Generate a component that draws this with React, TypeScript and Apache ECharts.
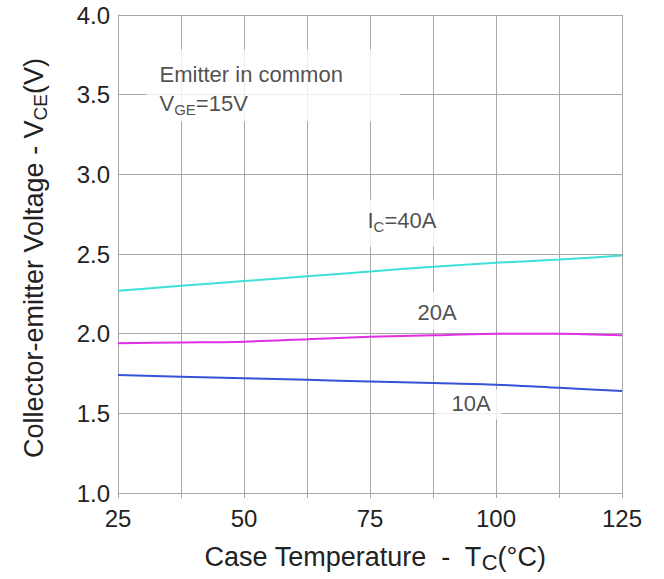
import { useEffect, useRef } from "react";
import * as echarts from "echarts";

// Case temperature (°C) sample points
const temperatures = [25, 37.5, 50, 62.5, 75, 87.5, 100, 112.5, 125];

// Collector-emitter saturation voltage (V) per collector current
const vce40A = [2.27, 2.3, 2.33, 2.36, 2.39, 2.42, 2.445, 2.465, 2.49];
const vce20A = [1.94, 1.945, 1.95, 1.965, 1.98, 1.99, 2.0, 2.0, 1.99];
const vce10A = [1.74, 1.73, 1.72, 1.71, 1.7, 1.69, 1.68, 1.66, 1.64];

const seriesNames = ["IC=40A", "IC=20A", "IC=10A"];
const seriesColors = ["#3fe0da", "#e22ee2", "#3552d8"];

const FONT = '"Liberation Sans", Arial, Helvetica, sans-serif';
const INK = "#222222";
const GRID = "#a8a8a8";

// Text notes anchored (top-left of their white box) in data coordinates
const notes = [
  {
    at: [30.754, 3.7803],
    text: "Emitter in common\nV{sub|GE}=15V",
    lineHeight: 29,
    padding: [10.5, 57, 3.5, 13],
  },
  {
    at: [71.825, 2.8389],
    text: "I{sub|C}=40A",
    lineHeight: 24,
    padding: [9, 15, 14, 14],
  },
  {
    at: [81.944, 2.2615],
    text: "20A",
    lineHeight: 24,
    padding: [9, 13, 5, 13],
  },
  {
    at: [88.095, 1.6464],
    text: "10A",
    lineHeight: 24,
    padding: [2, 11, 4, 16],
  },
];

export default function App() {
  const ref = useRef<HTMLDivElement>(null);

  useEffect(() => {
    document.body.style.margin = "0";
    if (!ref.current) return;
    const chart = echarts.init(ref.current, undefined, { renderer: "svg" });

    const lineSeries = [vce40A, vce20A, vce10A].map((vals, i) => ({
      name: seriesNames[i],
      type: "line",
      data: temperatures.map((t, k) => [t, vals[k]]),
      showSymbol: false,
      smooth: 0.3,
      lineStyle: { color: seriesColors[i], width: 2 },
      itemStyle: { color: seriesColors[i] },
      z: 3,
    }));

    chart.setOption({
      animation: false,
      backgroundColor: "#ffffff",
      textStyle: { fontFamily: FONT },
      grid: { left: 118, right: 42, top: 15, bottom: 86 },
      xAxis: {
        type: "value",
        min: 25,
        max: 125,
        interval: 12.5,
        name: "Case Temperature  -  T{sub|C}(°C)",
        nameLocation: "middle",
        nameGap: 47,
        nameTextStyle: {
          fontFamily: FONT,
          fontSize: 27,
          lineHeight: 34,
          color: INK,
          padding: [0, 0, 0, 10],
          rich: {
            sub: { fontFamily: FONT, fontSize: 22, lineHeight: 22, padding: [11.5, 0, 0, 0], color: INK },
          },
        },
        axisLine: { show: true, lineStyle: { color: GRID, width: 1 } },
        axisTick: { show: true, length: 5, lineStyle: { color: GRID } },
        splitLine: { show: true, lineStyle: { color: GRID, width: 1 } },
        axisLabel: {
          margin: 13,
          fontFamily: FONT,
          fontSize: 24,
          color: INK,
          formatter: (v: number) => (v % 25 === 0 ? String(v) : ""),
        },
      },
      yAxis: {
        type: "value",
        min: 1,
        max: 4,
        interval: 0.5,
        name: "Collector-emitter Voltage - V{sub|CE}(V)",
        nameLocation: "middle",
        nameRotate: 90,
        nameGap: 68,
        nameTextStyle: {
          fontFamily: FONT,
          fontSize: 27,
          lineHeight: 32,
          color: INK,
          padding: [0, 8, 0, 0],
          rich: {
            sub: { fontFamily: FONT, fontSize: 19, lineHeight: 19, padding: [12.6, 0, 0, 0], color: INK },
          },
        },
        axisLine: { show: true, lineStyle: { color: GRID, width: 1 } },
        axisTick: { show: false },
        splitLine: { show: true, lineStyle: { color: GRID, width: 1 } },
        axisLabel: {
          margin: 8,
          fontFamily: FONT,
          fontSize: 24,
          color: INK,
          formatter: (v: number) => v.toFixed(1),
        },
      },
      series: [
        ...lineSeries,
        {
          name: "notes",
          type: "scatter",
          symbolSize: 1,
          itemStyle: { color: "transparent" },
          silent: true,
          z: 4,
          data: notes.map((n) => ({
            value: n.at,
            label: {
              show: true,
              formatter: n.text,
              position: [0, 0],
              align: "left",
              verticalAlign: "top",
              fontFamily: FONT,
              fontSize: 22,
              lineHeight: n.lineHeight,
              color: INK,
              backgroundColor: "#ffffff",
              padding: n.padding,
              rich: {
                sub: { fontFamily: FONT, fontSize: 15, lineHeight: 15, padding: [11, 0, 0, 0], color: INK },
              },
            },
          })),
        },
      ],
    });

    return () => chart.dispose();
  }, []);

  return <div ref={ref} style={{ width: 664, height: 579 }} />;
}
